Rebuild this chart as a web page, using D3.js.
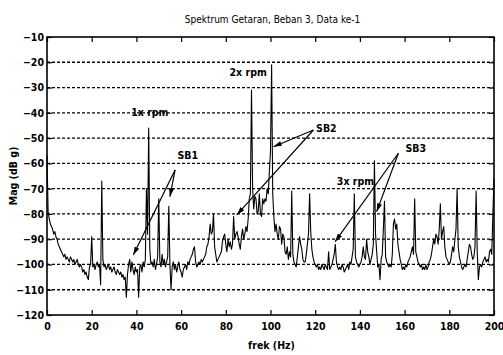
<!DOCTYPE html>
<html>
<head>
<meta charset="utf-8">
<script src="https://cdn.jsdelivr.net/npm/d3@7"></script>
<style>
body { margin: 0; background: #fff; }
text { font-family: "Liberation Sans Narrow", "DejaVu Sans Condensed", "Liberation Sans", sans-serif; }
</style>
</head>
<body>
<div id="my_dataviz"></div>
<script>
// spectrum bins, 0.5 Hz apart, 0..200 Hz (dB g)
const binHz = 0.5;
const mag = [
  -57, -79, -82, -84, -85, -86, -88, -87, -89, -90,
  -92, -93, -94, -95, -96, -97, -96, -98, -97, -98,
  -99, -97, -98, -99, -98, -100, -99, -98, -100, -101,
  -100, -101, -103, -102, -104, -103, -105, -106, -101, -100,
  -89, -101, -100, -102, -100, -99, -101, -100, -108, -67,
  -98, -101, -100, -102, -101, -100, -102, -101, -103, -102,
  -101, -103, -104, -102, -103, -104, -103, -105, -104, -106,
  -105, -113, -104, -100, -98, -103, -99, -102, -104, -101,
  -103, -102, -113, -101, -100, -103, -99, -101, -98, -70,
  -88, -46, -94, -100, -99, -101, -98, -102, -100, -97,
  -74, -99, -101, -96, -100, -98, -101, -99, -97, -77,
  -100, -110, -101, -99, -102, -100, -103, -101, -99, -102,
  -103, -105, -102, -101, -100, -102, -99, -100, -98, -97,
  -96, -94, -93, -99, -101, -100, -99, -100, -98, -99,
  -98, -97, -96, -93, -92, -89, -84, -88, -87, -80,
  -93, -96, -99, -98, -97, -96, -95, -91, -89, -88,
  -92, -95, -90, -93, -91, -94, -92, -81, -90, -88,
  -87, -89, -92, -94, -89, -86, -90, -88, -85, -87,
  -82, -74, -72, -31, -70, -78, -73, -74, -80, -79,
  -72, -80, -81, -74, -76, -74, -75, -70, -72, -63,
  -55, -21, -72, -81, -87, -84, -88, -90, -85, -86,
  -92, -88, -89, -95, -96, -93, -98, -95, -97, -71,
  -96, -99, -100, -101, -97, -93, -89, -92, -94, -98,
  -99, -99, -96, -92, -88, -72, -87, -94, -97, -99,
  -100, -101, -100, -102, -101, -102, -100, -101, -102, -100,
  -101, -102, -95, -102, -101, -100, -98, -96, -92, -99,
  -101, -102, -101, -102, -100, -101, -103, -102, -101, -100,
  -102, -99, -100, -97, -94, -72, -97, -99, -100, -101,
  -100, -99, -97, -93, -97, -98, -90, -95, -97, -100,
  -98, -96, -92, -59, -88, -95, -101, -100, -106, -98,
  -96, -86, -75, -97, -99, -100, -101, -100, -101, -96,
  -84, -82, -86, -84, -92, -95, -98, -100, -102, -101,
  -102, -100, -101, -99, -98, -97, -95, -93, -96, -74,
  -95, -97, -99, -100, -101, -100, -102, -101, -102, -100,
  -102, -101, -99, -98, -96, -93, -90, -92, -88, -89,
  -92, -86, -76, -90, -87, -85, -93, -97, -98, -99,
  -100, -99, -96, -93, -95, -90, -86, -70, -93, -97,
  -99, -101, -102, -101, -100, -101, -98, -95, -92, -93,
  -96, -98, -97, -93, -71, -95, -106, -101, -100, -101,
  -99, -98, -97, -99, -98, -99, -95, -94, -96, -80,
  -66
];

const xTicks = [0, 20, 40, 60, 80, 100, 120, 140, 160, 180, 200];
const yTicks = [-10, -20, -30, -40, -50, -60, -70, -80, -90, -100, -110, -120];

const titleText = "Spektrum Getaran, Beban 3, Data ke-1";
const xLabel = "frek (Hz)";
const yLabel = "Mag (dB g)";

// annotation texts (Hz, dB)
const noteText = ["1x rpm", "2x rpm", "3x rpm", "SB1", "SB2", "SB3"];
const noteHz   = [46, 90, 138, 63, 125, 165];
const noteDb   = [-40, -24, -67, -57, -46, -54];

// arrows: start (Hz, dB) -> end (Hz, dB)
const arrowFrom = [[57.3, -62.6], [57.3, -62.6], [119.2, -46.8], [119.2, -46.8], [157.2, -56], [157.2, -56]];
const arrowTo   = [[38.6, -96.3], [55, -73.2], [101.3, -53.4], [84.9, -80.4], [128.9, -91], [147.5, -79.1]];

var margin = {top: 37, right: 9, bottom: 40, left: 47},
  width = 503 - margin.left - margin.right,
  height = 355 - margin.top - margin.bottom;

var svg = d3.select("#my_dataviz")
.append("svg")
  .attr("width", width + margin.left + margin.right)
  .attr("height", height + margin.top + margin.bottom)
.append("g")
  .attr("transform", "translate(" + margin.left + "," + margin.top + ")");

var x = d3.scaleLinear().domain([0, 200]).range([0, width]);
var y = d3.scaleLinear().domain([-120, -10]).range([height, 0]);

// dashed grid
svg.append("g")
  .selectAll("line")
  .data(yTicks.slice(1, -1))
  .enter()
  .append("line")
    .attr("x1", 0).attr("x2", width)
    .attr("y1", d => y(d)).attr("y2", d => y(d))
    .style("stroke", "#000")
    .style("stroke-width", 1.3)
    .style("stroke-dasharray", "3,2");

// spectrum
var line = d3.line()
  .x((d, i) => x(i * binHz))
  .y(d => y(d));

svg.append("path")
  .datum(mag)
  .attr("fill", "none")
  .attr("stroke", "#000")
  .attr("stroke-width", 1.1)
  .attr("stroke-linejoin", "round")
  .attr("d", line);

// axes
function styleAxis(g, size) {
  g.select(".domain").remove();
  g.selectAll(".tick line").attr("stroke", "#000").attr("stroke-width", 1.2);
  g.selectAll("text")
    .attr("font-family", null)
    .style("font-size", size + "px")
    .style("font-weight", "bold")
    .attr("fill", "#000");
}

svg.append("g")
  .attr("transform", "translate(0," + height + ")")
  .call(d3.axisBottom(x).tickValues(xTicks).tickSizeInner(-5).tickSizeOuter(0).tickPadding(8))
  .call(g => styleAxis(g, 10.5));

svg.append("g")
  .call(d3.axisTop(x).tickValues(xTicks).tickSizeInner(-5).tickSizeOuter(0).tickFormat(""))
  .call(g => styleAxis(g, 10.5));

svg.append("g")
  .call(d3.axisLeft(y).tickValues(yTicks).tickSizeInner(-5).tickSizeOuter(0).tickPadding(3))
  .call(g => styleAxis(g, 10.5));

svg.append("g")
  .attr("transform", "translate(" + width + ",0)")
  .call(d3.axisRight(y).tickValues(yTicks).tickSizeInner(-5).tickSizeOuter(0).tickFormat(""))
  .call(g => styleAxis(g, 10.5));

// frame
svg.append("rect")
  .attr("width", width).attr("height", height)
  .attr("fill", "none")
  .attr("stroke", "#000")
  .attr("stroke-width", 1.6);

// title and axis labels
svg.append("text")
  .attr("x", width / 2 + 2).attr("y", -14)
  .attr("text-anchor", "middle")
  .style("font-size", "10px")
  .text(titleText);

svg.append("text")
  .attr("x", width / 2 + 1).attr("y", height + 34)
  .attr("text-anchor", "middle")
  .style("font-size", "10.5px")
  .style("font-weight", "bold")
  .text(xLabel);

svg.append("text")
  .attr("transform", "translate(" + (-30) + "," + (height / 2) + ") rotate(-90)")
  .attr("text-anchor", "middle")
  .style("font-size", "10.5px")
  .style("font-weight", "bold")
  .text(yLabel);

// arrows
svg.append("defs").append("marker")
  .attr("id", "head")
  .attr("viewBox", "0 0 10 6")
  .attr("refX", 10).attr("refY", 3)
  .attr("markerWidth", 9).attr("markerHeight", 5)
  .attr("markerUnits", "userSpaceOnUse")
  .attr("orient", "auto")
  .append("path")
    .attr("d", "M0,0L10,3L0,6Z")
    .attr("fill", "#000");

svg.append("g")
  .selectAll("line")
  .data(arrowFrom)
  .enter()
  .append("line")
    .attr("x1", d => x(d[0])).attr("y1", d => y(d[1]))
    .attr("x2", (d, i) => x(arrowTo[i][0])).attr("y2", (d, i) => y(arrowTo[i][1]))
    .attr("stroke", "#000")
    .attr("stroke-width", 1.2)
    .attr("marker-end", "url(#head)");

svg.append("g")
  .selectAll("text")
  .data(noteText)
  .enter()
  .append("text")
    .attr("x", (d, i) => x(noteHz[i]))
    .attr("y", (d, i) => y(noteDb[i]))
    .attr("dy", "0.35em")
    .attr("text-anchor", "middle")
    .style("font-size", "10.5px")
    .style("font-weight", "bold")
    .text(d => d);
</script>
</body>
</html>
